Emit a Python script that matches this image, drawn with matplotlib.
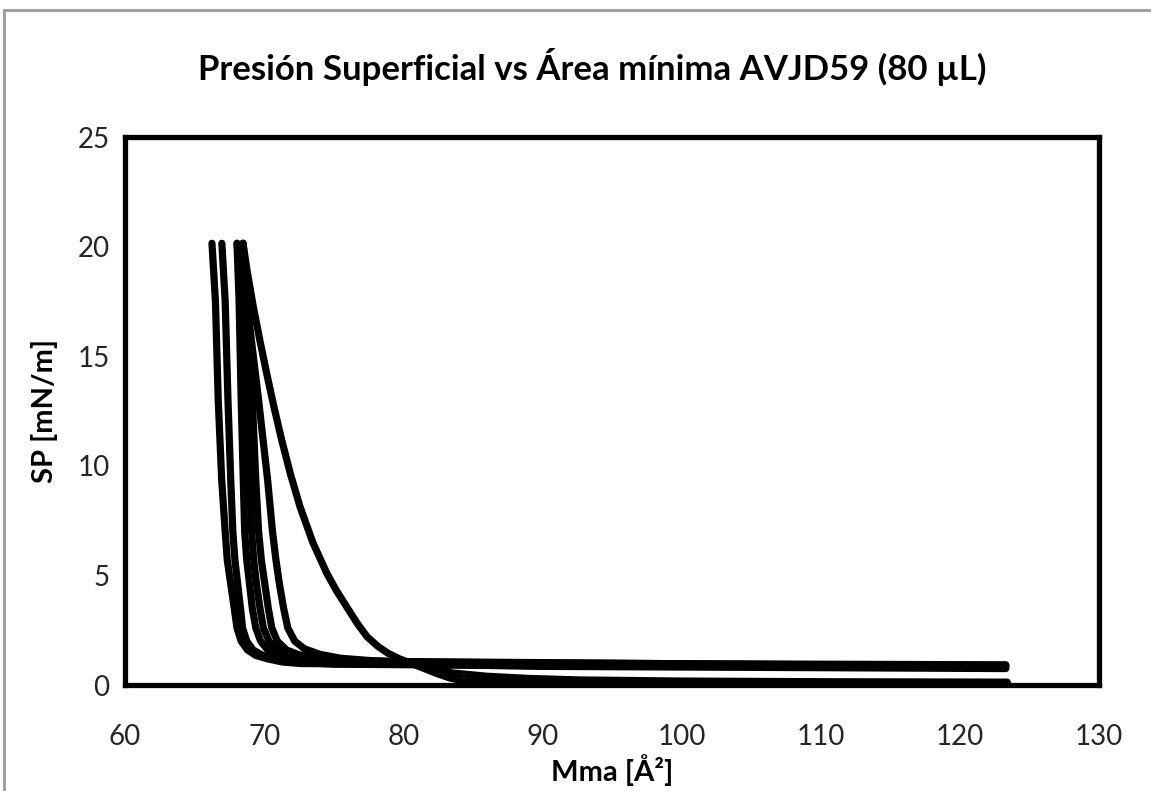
import matplotlib
matplotlib.use("Agg")
import matplotlib.pyplot as plt
from matplotlib.lines import Line2D

plt.rcParams['font.family'] = ['Lato', 'DejaVu Sans']

title = "Presión Superficial vs Área mínima AVJD59 (80 µL)"
xlabel = "Mma [Å²]"
ylabel = "SP [mN/m]"
xticks = [60, 70, 80, 90, 100, 110, 120, 130]
yticks = [0, 5, 10, 15, 20, 25]

# isotherm curves (Mma, SP)
c1_x = [66.25, 66.5, 66.7, 66.95, 67.2, 67.35, 67.6, 67.85, 68.05, 68.35, 68.8, 69.4, 70.2, 71.3, 72.6, 80.0, 100.0, 123.3]
c1_y = [20.15, 17.5, 13.0, 9.35, 7.0, 5.7, 4.6, 3.5, 2.6, 2.0, 1.6, 1.35, 1.2, 1.05, 0.98, 0.95, 0.92, 0.9]
c2_x = [66.96, 67.2, 67.4, 67.6, 67.75, 67.9, 68.1, 68.3, 68.45, 68.75, 69.2, 69.9, 70.8, 72.0, 75.0, 90.0, 123.3]
c2_y = [20.15, 17.5, 13.0, 9.35, 7.0, 5.7, 4.6, 3.5, 2.6, 2.0, 1.6, 1.35, 1.18, 1.05, 0.95, 0.88, 0.8]
c3_x = [68.05, 68.2, 68.35, 68.5, 68.6, 68.75, 68.95, 69.15, 69.4, 69.75, 70.25, 71.0, 71.8, 73.0, 76.0, 90.0, 123.3]
c3_y = [20.15, 17.5, 13.0, 9.35, 7.0, 5.7, 4.6, 3.5, 2.6, 2.0, 1.6, 1.35, 1.2, 1.08, 1.0, 0.85, 0.75]
c4_x = [68.05, 68.45, 68.8, 68.95, 69.1, 69.25, 69.45, 69.7, 69.95, 70.35, 70.9, 71.7, 72.8, 74.5, 78.0, 100.0, 123.3]
c4_y = [20.15, 17.5, 13.0, 9.35, 7.0, 5.7, 4.6, 3.5, 2.6, 2.0, 1.6, 1.35, 1.2, 1.1, 1.05, 0.97, 0.92]
c5_x = [68.48, 68.85, 69.15, 69.4, 69.6, 69.8, 70.05, 70.3, 70.55, 70.95, 71.6, 72.5, 73.7, 76.0, 80.0, 100.0, 123.3]
c5_y = [20.15, 17.5, 13.0, 9.35, 7.0, 5.7, 4.6, 3.5, 2.6, 2.0, 1.6, 1.38, 1.22, 1.12, 1.07, 0.97, 0.85]
c6_x = [68.48, 68.75, 69.6, 70.25, 70.6, 70.85, 71.1, 71.4, 71.7, 72.2, 72.9, 74.0, 75.5, 77.5, 80.5, 82.0, 83.5, 86.0, 89.0, 92.7, 100.0, 110.0, 123.4]
c6_y = [20.15, 17.5, 13.0, 9.35, 7.0, 5.7, 4.6, 3.5, 2.6, 2.0, 1.65, 1.4, 1.22, 1.12, 1.02, 0.8, 0.55, 0.4, 0.3, 0.23, 0.18, 0.15, 0.13]
c7_x = [68.48, 68.8, 69.22, 69.7, 70.18, 70.7, 71.26, 71.9, 72.58, 73.5, 74.5, 75.2, 75.93, 76.7, 77.4, 78.2, 78.9, 79.7, 80.5, 81.4, 82.3, 83.3, 84.3, 86.0, 95.0, 110.0, 123.4]
c7_y = [20.15, 18.8, 17.26, 15.7, 14.22, 12.7, 11.18, 9.6, 8.13, 6.5, 5.1, 4.3, 3.57, 2.8, 2.2, 1.75, 1.45, 1.2, 1.0, 0.78, 0.55, 0.33, 0.18, 0.13, 0.12, 0.1, 0.1]

curves = [(c1_x, c1_y), (c2_x, c2_y), (c3_x, c3_y), (c4_x, c4_y),
          (c5_x, c5_y), (c6_x, c6_y), (c7_x, c7_y)]

W, H = 1151, 791
fig = plt.figure(figsize=(W / 100, H / 100), dpi=100)
fig.patch.set_facecolor('white')

# outer grey frame of the chart area (left and top edges)
fig.add_artist(Line2D([4 / W, 4 / W], [0, 1 - 10 / H], transform=fig.transFigure,
                      color='#a0a0a0', lw=2.2))
fig.add_artist(Line2D([4 / W, 1], [1 - 10 / H, 1 - 10 / H], transform=fig.transFigure,
                      color='#a0a0a0', lw=2.2))

ax = fig.add_axes([125 / W, 1 - 685 / H, (1099 - 125) / W, (685 - 137) / H])
for xs, ys in curves:
    ax.plot(xs, ys, color='black', lw=5.2, solid_capstyle='round',
            solid_joinstyle='round', clip_on=False, zorder=3)

ax.set_xlim(60, 130)
ax.set_ylim(0, 25)
ax.set_xticks(xticks)
ax.set_yticks(yticks)
ax.tick_params(length=0, labelsize=20, colors='#262626')
ax.tick_params(axis='y', pad=11)
ax.tick_params(axis='x', pad=28)
for s in ax.spines.values():
    s.set_linewidth(3.8)
    s.set_color('black')
# thin white line inside the left, bottom and right frame edges (double-line look)
for xs, ys in [([0, 0], [0, 1]), ([0, 1], [0, 0]), ([1, 1], [0, 1])]:
    ax.add_artist(Line2D(xs, ys, transform=ax.transAxes, color='white', lw=0.8,
                         clip_on=False, zorder=2.5))

ax.set_xlabel(xlabel, fontsize=21, fontweight='bold', labelpad=3)
ax.set_ylabel(ylabel, fontsize=21, fontweight='bold', labelpad=14)
fig.text(592 / W, 1 - 67 / H, title, ha='center', va='center',
         fontsize=25, fontweight='bold')

fig.savefig('out.png', dpi=100)
